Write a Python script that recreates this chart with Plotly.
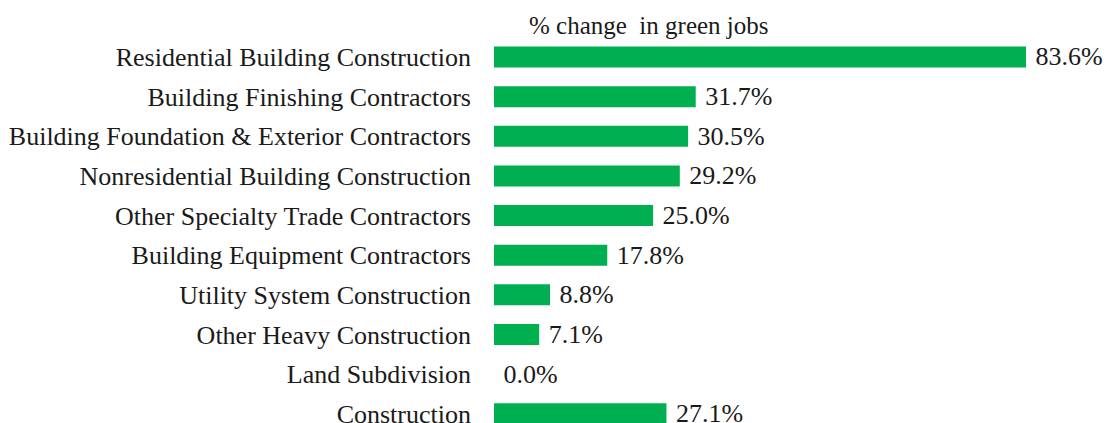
import plotly.graph_objects as go

industries = [
    "Residential Building Construction",
    "Building Finishing Contractors",
    "Building Foundation & Exterior Contractors",
    "Nonresidential Building Construction",
    "Other Specialty Trade Contractors",
    "Building Equipment Contractors",
    "Utility System Construction",
    "Other Heavy Construction",
    "Land Subdivision",
    "Construction",
]
pct_change = [83.6, 31.7, 30.5, 29.2, 25.0, 17.8, 8.8, 7.1, 0.0, 27.1]

FONT = "Liberation Serif, Times New Roman, serif"
GREEN = "#00B050"
INK = "#1a1a1a"

fig = go.Figure(
    go.Bar(
        x=pct_change,
        y=list(range(len(industries))),
        orientation="h",
        marker=dict(color=GREEN, line=dict(width=0)),
        texttemplate=" %{x:.1f}%",
        textposition="outside",
        constraintext="none",
        textfont=dict(family=FONT, size=26, color=INK),
        cliponaxis=False,
        hoverinfo="skip",
    )
)

fig.update_layout(
    width=1106,
    height=423,
    margin=dict(l=494, r=0, t=37, b=0, autoexpand=False),
    paper_bgcolor="white",
    plot_bgcolor="white",
    bargap=0.47,
    showlegend=False,
    font=dict(family=FONT, size=26, color=INK),
    annotations=[
        dict(
            text="% change  in green jobs",
            xref="paper", yref="paper",
            x=0.253, y=1.0,
            xanchor="center", yanchor="bottom",
            yshift=-4,
            showarrow=False,
            font=dict(family=FONT, size=25, color=INK),
        )
    ],
)

fig.update_xaxes(
    range=[0, 96.17],
    visible=False,
    showgrid=False,
    zeroline=False,
    automargin=False,
)
fig.update_yaxes(
    range=[9.233, -0.5045],
    tickmode="array",
    tickvals=list(range(len(industries))),
    ticktext=industries,
    showgrid=False,
    zeroline=False,
    showline=False,
    ticks="",
    automargin=False,
    ticklabelstandoff=22,
    ticklabeloverflow="allow",
    tickfont=dict(family=FONT, size=26, color=INK),
)

fig.write_html("out.html")
